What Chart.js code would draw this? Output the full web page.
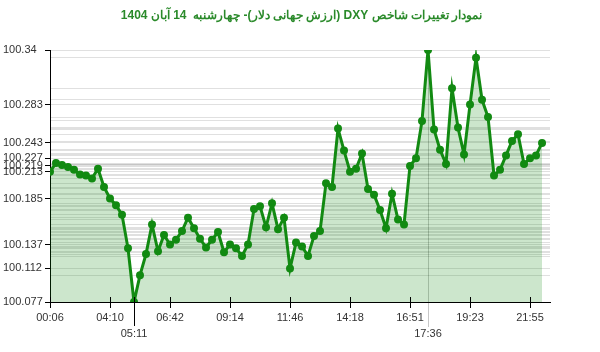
<!DOCTYPE html>
<html>
<head>
<meta charset="utf-8">
<script src="https://cdn.jsdelivr.net/npm/chart.js@4/dist/chart.umd.min.js"></script>
<style>
html,body{margin:0;padding:0;background:#fff}
#wrap{width:600px;height:352px;position:relative}
</style>
</head>
<body>
<div id="wrap"><canvas id="chart-dxy" dir="rtl"></canvas></div>
<script>
// times of each sample (category labels)
const labels=['00:06','00:30','00:55','01:19','01:44','02:08','02:32','02:57','03:21','03:46',
'04:10','04:25','04:40','04:56','05:11','05:26','05:41','05:56','06:12','06:27',
'06:42','06:57','07:12','07:28','07:43','07:58','08:13','08:28','08:44','08:59',
'09:14','09:29','09:44','10:00','10:15','10:30','10:45','11:00','11:16','11:31',
'11:46','12:01','12:16','12:32','12:47','13:02','13:17','13:32','13:48','14:03',
'14:18','14:33','14:49','15:04','15:19','15:34','15:50','16:05','16:20','16:35',
'16:51','17:06','17:21','17:36','17:51','18:06','18:22','18:37','18:52','19:07',
'19:23','19:38','19:53','20:08','20:23','20:39','20:54','21:09','21:24','21:40',
'21:55','22:10','22:25'];
// DXY values
const values=[100.213,100.222,100.220,100.218,100.215,100.210,100.209,100.206,100.216,100.197,
100.185,100.178,100.168,100.133,100.077,100.105,100.127,100.158,100.130,100.147,
100.137,100.142,100.151,100.165,100.154,100.143,100.134,100.142,100.150,100.129,
100.137,100.133,100.125,100.137,100.174,100.177,100.155,100.180,100.153,100.165,
100.112,100.139,100.135,100.125,100.146,100.151,100.201,100.197,100.258,100.235,
100.213,100.216,100.232,100.195,100.189,100.173,100.154,100.190,100.163,100.158,
100.219,100.227,100.266,100.340,100.257,100.236,100.221,100.300,100.259,100.231,
100.283,100.332,100.288,100.270,100.209,100.215,100.230,100.245,100.252,100.221,
100.227,100.230,100.243];
// labelled y ticks
const yTickVals=[100.077,100.112,100.137,100.185,100.213,100.219,100.227,100.243,100.283,100.34];
// labelled x ticks (indices into labels)
const xTickIdx=[0,10,20,30,40,50,60,70,80];

const GREEN='#128a12';
const FONT='"Liberation Sans", Arial, sans-serif';
const vMin=Math.min(...values),vMax=Math.max(...values);
const minIdx=values.indexOf(vMin),maxIdx=values.indexOf(vMax);
const yGrid=[...new Set([...values,...yTickVals])].sort((a,b)=>a-b);
const xTicks=[...xTickIdx,minIdx,maxIdx].sort((a,b)=>a-b);

// x tick marks cross the axis; min/max ones run longer
const xMarks={id:'xMarks',afterDatasetsDraw(chart){
  const {ctx,chartArea:a,scales:{x}}=chart;
  ctx.save();ctx.lineWidth=1;
  x.ticks.forEach(t=>{
    const px=Math.round(x.getPixelForValue(t.value))+.5;
    let y0=a.bottom-5,y1=a.bottom+6,c='#000';
    if(t.value===minIdx)y1=a.bottom+24;
    if(t.value===maxIdx){y0=a.bottom;y1=a.bottom+25;c='rgba(0,0,0,0.22)'}
    ctx.strokeStyle=c;ctx.beginPath();ctx.moveTo(px,y0);ctx.lineTo(px,y1);ctx.stroke();
  });
  ctx.restore();
}};

new Chart(document.getElementById('chart-dxy'),{
  type:'line',
  data:{datasets:[{
    data:values.map((v,i)=>({x:i,y:v})),
    borderColor:GREEN,backgroundColor:'rgba(0,128,0,0.2)',borderWidth:3,
    pointRadius:3,pointBorderWidth:2,pointBackgroundColor:GREEN,pointBorderColor:GREEN,
    fill:'start',tension:0
  }]},
  plugins:[xMarks],
  options:{
    responsive:true,maintainAspectRatio:false,animation:false,
    layout:{padding:{left:3,right:0,top:0,bottom:0}},
    plugins:{
      legend:{display:false},tooltip:{enabled:false},
      title:{display:true,text:'نمودار تغییرات شاخص DXY (ارزش جهانی دلار)- چهارشنبه  14 آبان 1404',
        color:'#2a8a2a',font:{family:FONT,size:12,weight:'bold'},padding:{top:8,bottom:27.6}}
    },
    scales:{
      x:{type:'linear',min:0,max:83.33,
        afterBuildTicks:s=>{s.ticks=xTicks.map(v=>({value:v}))},
        afterFit:s=>{s.height=50},
        grid:{drawTicks:false,color:c=>c.tick&&c.tick.value===maxIdx?'rgba(0,0,0,0.22)':'transparent'},
        border:{color:'#000',width:1},
        ticks:{autoSkip:false,maxRotation:0,padding:8,color:'#333',font:{family:FONT,size:11,lineHeight:1.45},
          callback:v=>v===minIdx||v===maxIdx?['',labels[v]]:labels[v]}
      },
      y:{min:vMin,max:vMax,
        afterBuildTicks:s=>{s.ticks=yGrid.map(v=>({value:v}))},
        afterFit:s=>{s.width=47},
        grid:{color:'rgba(0,0,0,0.12)',tickLength:5,tickColor:c=>c.tick&&yTickVals.includes(c.tick.value)?'#000':'transparent'},
        border:{color:'#000',width:1},
        ticks:{autoSkip:false,crossAlign:'far',padding:2,color:'#333',font:{family:FONT,size:11},
          callback:v=>yTickVals.includes(v)?String(v):''}
      },
      // empty right gutter so the title centres on the full width
      yRight:{position:'right',display:true,min:0,max:1,
        afterFit:s=>{s.width=50},
        grid:{display:false},border:{display:false},ticks:{display:false}}
    }
  }
});
</script>
</body>
</html>
